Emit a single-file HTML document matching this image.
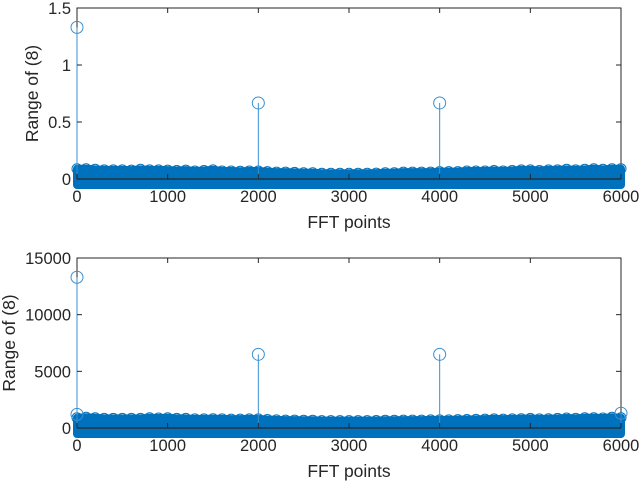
<!DOCTYPE html>
<html><head><meta charset="utf-8"><style>
html,body{margin:0;padding:0;background:#fff;}
svg{display:block;font-family:"Liberation Sans",Arial,sans-serif;}
</style></head><body>
<svg id="c" width="640" height="481" viewBox="0 0 640 481" xmlns="http://www.w3.org/2000/svg"></svg>
<script>
// data
const xTicks=[0,1000,2000,3000,4000,5000,6000];
const yTicksTop=[0,0.5,1,1.5];
const yTickLabelsTop=["0","0.5","1","1.5"];
const yTicksBot=[0,5000,10000,15000];
const yTickLabelsBot=["0","5000","10000","15000"];
const peakXTop=[0,2000,4000];
const peakYTop=[1.33,0.667,0.667];
const peakXBot=[0,0,2000,4000,6000];
const peakYBot=[13300,1200,6500,6500,1300];
// noise-floor envelope, sampled every 100 points (0..6000)
const envTop=[0.09,0.09,0.085,0.08,0.08,0.08,0.078,0.085,0.08,0.08,0.078,0.075,0.078,0.07,0.075,0.08,0.07,0.07,0.068,0.07,0.07,0.065,0.06,0.06,0.058,0.055,0.055,0.05,0.05,0.05,0.05,0.05,0.05,0.052,0.055,0.055,0.06,0.06,0.06,0.06,0.065,0.065,0.065,0.07,0.07,0.07,0.075,0.07,0.075,0.08,0.08,0.075,0.08,0.08,0.085,0.08,0.085,0.09,0.085,0.09,0.09];
const envBot=[900,950,900,850,850,850,850,850,900,880,900,850,850,800,800,820,800,780,780,800,800,750,720,700,700,680,680,650,650,650,650,650,650,660,680,680,700,700,700,720,720,720,740,750,760,780,800,780,800,820,850,800,820,850,880,850,900,900,880,950,900];
const svg=document.getElementById('c');
const NS='http://www.w3.org/2000/svg';
function mk(t,a,p){const e=document.createElementNS(NS,t);for(const k in a)e.setAttribute(k,a[k]);(p||svg).appendChild(e);return e;}
function panel(name,y0,y1,yMax,yT,yL,peakX,peakY,env,labelX){
  const x0=77,x1=621;
  const sx=v=>x0+(v-0)/6000*(x1-x0);
  const sy=v=>y1-(v/yMax)*(y1-y0);
  const g=mk('g',{});
  
  
  const box=mk('rect',{x:x0,y:y0,width:x1-x0,height:y1-y0,fill:'#fff',stroke:'#262626','stroke-width':1},g);
  
  
  const band=mk('g',{},g);
  
  
  let d=`M${sx(0)},${sy(0)+6}`;
  env.forEach((v,i)=>{d+=` L${sx(i*100)},${sy(v)}`;});
  d+=` L${sx(6000)},${sy(0)+6} Z`;
  mk('path',{d:d,fill:'#0072BD',stroke:'#0072BD','stroke-width':8,'stroke-linejoin':'round'},band);
  env.forEach((v,i)=>{
    const c=mk('circle',{cx:sx(i*100),cy:sy(v),r:5,fill:'none',stroke:'#0072BD','stroke-width':1},band);
    
    
  });
  mk('line',{x1:x0,y1:y1,x2:x1,y2:y1,stroke:'#262626','stroke-width':1.2},g);
  peakX.forEach((px,i)=>{
    const l=mk('line',{x1:sx(px),y1:sy(0),x2:sx(px),y2:sy(peakY[i]),stroke:'#3a8fd0','stroke-width':1},g);
    
    
    const c=mk('circle',{cx:sx(px),cy:sy(peakY[i]),r:6,fill:'none',stroke:'#3a8fd0','stroke-width':1},g);
    
    
  });
  xTicks.forEach(t=>{
    mk('line',{x1:sx(t),y1:y0,x2:sx(t),y2:y0+5,stroke:'#262626'},g);
    mk('line',{x1:sx(t),y1:y1,x2:sx(t),y2:y1-5,stroke:'#262626'},g);
    const tx=mk('text',{x:sx(t),y:y1+23,'text-anchor':'middle','font-size':16.5,fill:'#262626'},g);
    tx.textContent=t;
    
    
  });
  yT.forEach((t,i)=>{
    mk('line',{x1:x0,y1:sy(t),x2:x0+5,y2:sy(t),stroke:'#262626'},g);
    mk('line',{x1:x1,y1:sy(t),x2:x1-5,y2:sy(t),stroke:'#262626'},g);
    const tx=mk('text',{x:x0-6,y:sy(t)+6,'text-anchor':'end','font-size':16.5,fill:'#262626'},g);
    tx.textContent=yL[i];
    
    
  });
  const xl=mk('text',{x:(x0+x1)/2,y:y1+49,'text-anchor':'middle','font-size':17.5,fill:'#262626'},g);
  xl.textContent='FFT points';
  
  
  const yc=(y0+y1)/2;
  const yl=mk('text',{x:labelX,y:yc,'text-anchor':'middle','font-size':17.5,fill:'#262626',transform:`rotate(-90 ${labelX} ${yc})`},g);
  yl.textContent='Range of (8)';
  
  
}
panel('top-chart',8,179,1.5,yTicksTop,yTickLabelsTop,peakXTop,peakYTop,envTop,38);
panel('bottom-chart',258,428,15000,yTicksBot,yTickLabelsBot,peakXBot,peakYBot,envBot,15);
</script>
</body></html>
